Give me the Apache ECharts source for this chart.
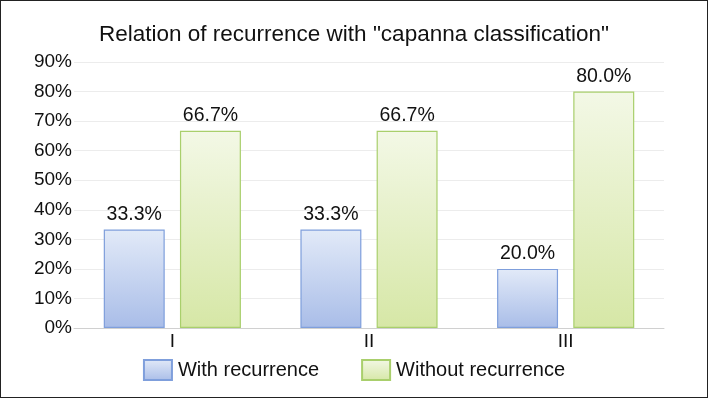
<!DOCTYPE html>
<html><head><meta charset="utf-8">
<script src="https://cdn.jsdelivr.net/npm/echarts@6/dist/echarts.min.js"></script>
<style>html,body{margin:0;padding:0;background:#fff}
#wrap{position:absolute;left:0;top:0;width:706px;height:396px;border:1px solid #222}
#c{width:706px;height:396px}</style></head>
<body><div id="wrap"><div id="c"></div></div>
<script>
var categories = ['I', 'II', 'III'];
var withRecurrence = [33.3, 33.3, 20.0];
var withoutRecurrence = [66.7, 66.7, 80.0];
var seriesNames = ['With recurrence', 'Without recurrence'];
var chart = echarts.init(document.getElementById('c'));
var font = 'Helvetica, "Liberation Sans", Arial, sans-serif';
function grad(a, b) { return new echarts.graphic.LinearGradient(0, 0, 0, 1, [{offset: 0, color: a}, {offset: 1, color: b}]); }
function lbl(p){ return p.value.toFixed(1) + '%'; }
chart.setOption({
  animation: false,
  title: {text: 'Relation of recurrence with "capanna classification"', left: 'center', top: 17,
    textStyle: {fontFamily: font, fontSize: 22.5, fontWeight: 'normal', color: '#111'}},
  grid: {left: 73, right: 43, top: 61, bottom: 69, containLabel: false},
  legend: {bottom: 11, left: 'center', itemWidth: 28, itemHeight: 20, itemGap: 42, icon: 'rect',
    textStyle: {fontFamily: font, fontSize: 20, color: '#111', padding: [0, 0, 0, 1]},
    data: seriesNames},
  xAxis: {type: 'category', data: categories,
    axisLine: {lineStyle: {color: '#d0d0d0'}}, axisTick: {show: false},
    axisLabel: {fontFamily: font, fontSize: 19, color: '#111', margin: 4}},
  yAxis: {type: 'value', min: 0, max: 90, interval: 10,
    axisLine: {show: false}, axisTick: {show: false},
    splitLine: {lineStyle: {color: '#ececec'}},
    axisLabel: {fontFamily: font, fontSize: 19, color: '#111', margin: 2, formatter: '{value}%'}},
  series: [
    {name: seriesNames[0], type: 'bar', data: withRecurrence, barWidth: '31%', barGap: '25%',
      itemStyle: {color: grad('#e2eaf8', '#a9bde8'), borderColor: '#7f9fdc', borderWidth: 1.2},
      label: {show: true, position: 'top', distance: 5, fontFamily: font, fontSize: 19.5, color: '#111', formatter: lbl}},
    {name: seriesNames[1], type: 'bar', data: withoutRecurrence, barWidth: '31%',
      itemStyle: {color: grad('#f3f8e6', '#d6e7a6'), borderColor: '#a9cf6c', borderWidth: 1.2},
      label: {show: true, position: 'top', distance: 5, fontFamily: font, fontSize: 19.5, color: '#111', formatter: lbl}}
  ]
});
</script></body></html>
